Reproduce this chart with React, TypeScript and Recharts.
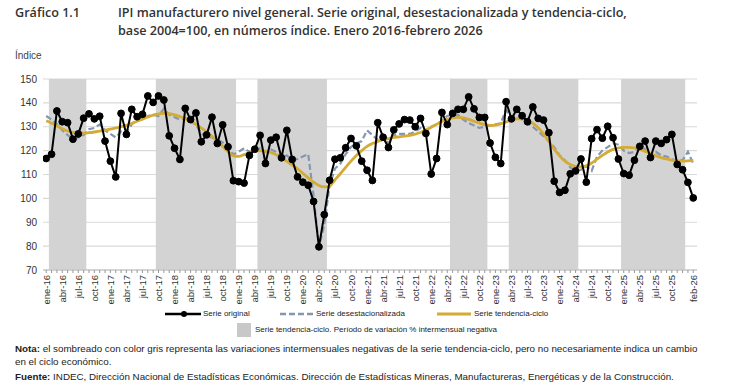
import { LineChart, Line, XAxis, YAxis, CartesianGrid, ReferenceArea } from 'recharts'

const MONTHS = ['ene', 'feb', 'mar', 'abr', 'may', 'jun', 'jul', 'ago', 'sep', 'oct', 'nov', 'dic']

const original = [
  116.7, 118.5, 136.6, 132.1, 131.7, 124.8, 127.0, 133.6, 135.4, 133.3,
  134.4, 124.0, 115.6, 109.0, 135.6, 126.8, 137.3, 134.2, 135.2, 142.9,
  140.2, 142.9, 141.2, 126.2, 121.0, 116.3, 137.7, 133.0, 135.8, 123.7,
  126.6, 134.0, 123.0, 130.8, 121.6, 107.4, 107.0, 106.4, 118.0, 120.6,
  126.4, 114.6, 124.4, 125.6, 117.0, 128.5, 116.3, 109.0, 106.8, 105.5,
  98.7, 79.7, 93.2, 107.6, 116.4, 117.0, 121.2, 125.1, 122.0, 115.6,
  111.8, 107.5, 131.7, 125.6, 121.3, 128.7, 131.2, 133.0, 132.8, 130.0,
  133.5, 127.2, 110.2, 116.7, 136.0, 130.9, 135.6, 137.3, 137.3, 142.5,
  137.5, 133.9, 133.9, 123.2, 117.2, 114.6, 140.5, 133.3, 137.3, 134.6,
  132.1, 138.3, 133.5, 132.8, 127.5, 107.2, 102.5, 103.4, 110.3, 111.5,
  116.5, 106.8, 125.0, 128.8, 125.2, 130.2, 125.4, 116.5, 110.4, 109.7,
  116.0, 121.8, 124.0, 117.1, 124.0, 123.0, 124.6, 126.8, 114.2, 112.0,
  106.7, 100.2,
]

const desest = [
  134.5, 133.0, 131.0, 128.5, 126.5, 125.0, 125.5, 126.5, 129.0, 129.5,
  131.0, 128.5, 127.0, 125.5, 128.0, 127.5, 131.0, 133.0, 134.0, 134.5,
  135.0, 134.5, 137.5, 135.0, 134.0, 133.0, 133.5, 132.0, 131.0, 127.0,
  126.0, 125.5, 124.5, 123.5, 120.5, 118.5, 119.5, 121.0, 119.5, 120.0,
  121.0, 119.5, 120.5, 119.5, 117.0, 118.0, 116.0, 116.5, 117.5, 118.5,
  101.0, 79.5, 89.0, 105.5, 112.5, 114.5, 118.5, 121.5, 123.0, 124.0,
  128.5, 126.5, 124.5, 126.0, 123.0, 126.5, 127.0, 127.0, 127.0, 128.0,
  129.5, 128.0, 130.0, 131.0, 132.5, 134.5, 135.0, 135.0, 133.0, 131.5,
  130.5, 129.5, 130.0, 130.5, 131.0, 131.5, 137.0, 134.0, 134.5, 133.0,
  131.5, 130.0, 128.0, 126.0, 124.0, 121.5, 118.0, 116.0, 113.0, 111.5,
  112.0, 113.5, 111.5, 117.5, 120.0, 121.5, 123.0, 122.5, 120.0, 119.0,
  119.5, 122.5, 120.5, 118.5, 119.5, 118.0, 117.5, 116.5, 115.5, 116.0,
  119.5, 114.5,
]

const tendencia = [
  132.5, 131.5, 130.3, 129.2, 128.2, 127.6, 127.3, 127.3, 127.5, 127.8,
  128.2, 128.6, 129.0, 129.5, 130.0, 130.6, 131.4, 132.3, 133.2, 134.1,
  134.9, 135.4, 135.6, 135.5, 135.0, 134.3, 133.4, 132.3, 131.0, 129.5,
  127.8, 126.0, 124.1, 121.8, 119.5, 117.8, 117.6, 118.3, 119.2, 119.8,
  120.0, 119.8, 119.2, 118.3, 117.0, 115.5, 114.0, 112.4, 110.5, 108.6,
  106.8, 105.4, 104.8, 105.2, 107.8, 110.3, 113.0, 115.6, 118.0, 120.0,
  121.8, 123.0, 123.9, 124.6, 125.0, 125.5, 125.8, 126.1, 126.4, 126.9,
  127.6, 128.6, 129.8, 131.0, 132.2, 133.1, 133.7, 133.9, 133.7, 133.1,
  132.3, 131.5, 130.9, 130.6, 130.7, 131.2, 132.0, 132.8, 133.3, 133.3,
  132.6, 131.4, 129.6, 127.0, 123.8, 120.6, 117.8, 115.6, 114.2, 113.4,
  113.2, 113.6, 114.8, 116.4, 118.0, 119.4, 120.5, 121.1, 121.4, 121.4,
  121.1, 120.5, 119.7, 118.8, 117.9, 117.1, 116.5, 116.0, 115.7, 115.6,
  115.7, 115.9,
]

const tickLabels = [
  'ene-16', 'abr-16', 'jul-16', 'oct-16', 'ene-17', 'abr-17', 'jul-17', 'oct-17',
  'ene-18', 'abr-18', 'jul-18', 'oct-18', 'ene-19', 'abr-19', 'jul-19', 'oct-19',
  'ene-20', 'abr-20', 'jul-20', 'oct-20', 'ene-21', 'abr-21', 'jul-21', 'oct-21',
  'ene-22', 'abr-22', 'jul-22', 'oct-22', 'ene-23', 'abr-23', 'jul-23', 'oct-23',
  'ene-24', 'abr-24', 'jul-24', 'oct-24', 'ene-25', 'abr-25', 'jul-25', 'oct-25',
  'feb-26',
]

// periodos con variacion intermensual negativa de la tendencia-ciclo
const shaded = [
  ['feb-16', 'ago-16'],
  ['oct-17', 'dic-18'],
  ['may-19', 'may-20'],
  ['may-22', 'nov-22'],
  ['abr-23', 'abr-24'],
  ['ene-25', 'dic-25'],
]

const categories = original.map((_, i) => `${MONTHS[i % 12]}-${16 + Math.floor(i / 12)}`)
const data = categories.map((mes, i) => ({
  i,
  mes,
  original: original[i],
  desest: desest[i],
  tendencia: tendencia[i],
}))
const allTicks = categories.map((_, i) => i)

const sans = '"Liberation Sans", Arial, sans-serif'

function MonthTick(props: any) {
  const { x, y, payload } = props
  const label = categories[payload.value]
  if (!tickLabels.includes(label)) return <g />
  return (
    <text
      x={x}
      y={y}
      transform={`rotate(-90, ${x}, ${y})`}
      textAnchor="end"
      dominantBaseline="central"
      fontSize={9.5}
      fontFamily={sans}
      fill="#333"
    >
      {label}
    </text>
  )
}

export default function App() {
  return (
    <div style={{ position: 'absolute', left: 0, top: 0, width: 730, height: 389, background: '#fff', color: '#222' }}>
      <div style={{ position: 'absolute', left: 15, top: 4, fontFamily: '"Open Sans", sans-serif', fontWeight: 600, fontSize: 12.6, lineHeight: '18px', color: '#333' }}>
        Gráfico 1.1
      </div>
      <div style={{ position: 'absolute', left: 118, top: 4, fontFamily: '"Open Sans", sans-serif', fontWeight: 600, fontSize: 12.6, lineHeight: '18px', color: '#333', whiteSpace: 'nowrap' }}>
        IPI manufacturero nivel general. Serie original, desestacionalizada y tendencia-ciclo,
        <br />
        base 2004=100, en números índice. Enero 2016-febrero 2026
      </div>
      <div style={{ position: 'absolute', left: 15, top: 50, fontFamily: sans, fontSize: 10, color: '#444' }}>Índice</div>

      <div style={{ position: 'absolute', left: 0, top: 70 }}>
        <LineChart width={730} height={240} data={data} margin={{ top: 9, right: 33, left: 0, bottom: 0 }}>
          <CartesianGrid vertical={false} stroke="#d9d9d9" strokeWidth={1.2} />
          {shaded.map(([a, b]) => (
            <ReferenceArea
              key={a}
              x1={categories.indexOf(a) - 0.5}
              x2={categories.indexOf(b) + 0.5}
              fill="#d3d3d3"
              fillOpacity={1}
              stroke="none"
            />
          ))}
          <XAxis
            type="number"
            dataKey="i"
            domain={[-0.6, 121.7]}
            ticks={allTicks}
            interval={0}
            height={40}
            tickSize={3}
            tickMargin={2}
            tick={<MonthTick />}
            tickLine={{ stroke: '#999' }}
            axisLine={{ stroke: '#bfbfbf' }}
            allowDataOverflow
          />
          <YAxis
            domain={[70, 150]}
            ticks={[70, 80, 90, 100, 110, 120, 130, 140, 150]}
            width={43}
            axisLine={false}
            tickLine={false}
            tickSize={0}
            tickMargin={6}
            tick={{ fontSize: 10, fill: '#333', fontFamily: sans }}
          />
          <Line type="linear" dataKey="desest" stroke="#8497b0" strokeWidth={2.2} strokeDasharray="6 3" dot={false} isAnimationActive={false} />
          <Line type="monotone" dataKey="tendencia" stroke="#d4ab35" strokeWidth={2.8} dot={false} isAnimationActive={false} />
          <Line
            type="linear"
            dataKey="original"
            stroke="#000"
            strokeWidth={2}
            dot={{ r: 3.4, fill: '#000', stroke: '#000', strokeWidth: 1 }}
            isAnimationActive={false}
          />
        </LineChart>
      </div>

      {/* leyenda */}
      <div style={{ position: 'absolute', left: 0, top: 308, width: 730, height: 40, fontFamily: sans, fontSize: 8, color: '#222' }}>
        <svg style={{ position: 'absolute', left: 165, top: 1 }} width={36} height={10}>
          <line x1={0} y1={5} x2={36} y2={5} stroke="#000" strokeWidth={2.5} />
          <circle cx={19} cy={5} r={3} fill="#000" />
        </svg>
        <span style={{ position: 'absolute', left: 203, top: 1 }}>Serie original</span>
        <svg style={{ position: 'absolute', left: 280, top: 1 }} width={33} height={10}>
          <line x1={0} y1={5} x2={33} y2={5} stroke="#8497b0" strokeWidth={2.5} strokeDasharray="6 3" />
        </svg>
        <span style={{ position: 'absolute', left: 316, top: 1 }}>Serie desestacionalizada</span>
        <svg style={{ position: 'absolute', left: 437, top: 1 }} width={34} height={10}>
          <line x1={0} y1={5} x2={34} y2={5} stroke="#d4ab35" strokeWidth={2.8} />
        </svg>
        <span style={{ position: 'absolute', left: 474, top: 1 }}>Serie tendencia-ciclo</span>
        <div style={{ position: 'absolute', left: 237, top: 15, width: 14, height: 14, background: '#c8c8c8' }} />
        <span style={{ position: 'absolute', left: 255, top: 17 }}>
          Serie tendencia-ciclo. Período de variación % intermensual negativa
        </span>
      </div>

      <div style={{ position: 'absolute', left: 15, top: 342, width: 690, fontFamily: sans, fontSize: 9.8, lineHeight: '13px', color: '#222' }}>
        <span style={{ fontWeight: 700 }}>Nota:</span> el sombreado con color gris representa las variaciones intermensuales negativas de la serie tendencia-ciclo, pero no necesariamente indica un cambio en el ciclo económico.
      </div>
      <div style={{ position: 'absolute', left: 15, top: 370, fontFamily: sans, fontSize: 9.8, lineHeight: '13px', color: '#222', whiteSpace: 'nowrap' }}>
        <span style={{ fontWeight: 700 }}>Fuente:</span> INDEC, Dirección Nacional de Estadísticas Económicas. Dirección de Estadísticas Mineras, Manufactureras, Energéticas y de la Construcción.
      </div>
    </div>
  )
}
